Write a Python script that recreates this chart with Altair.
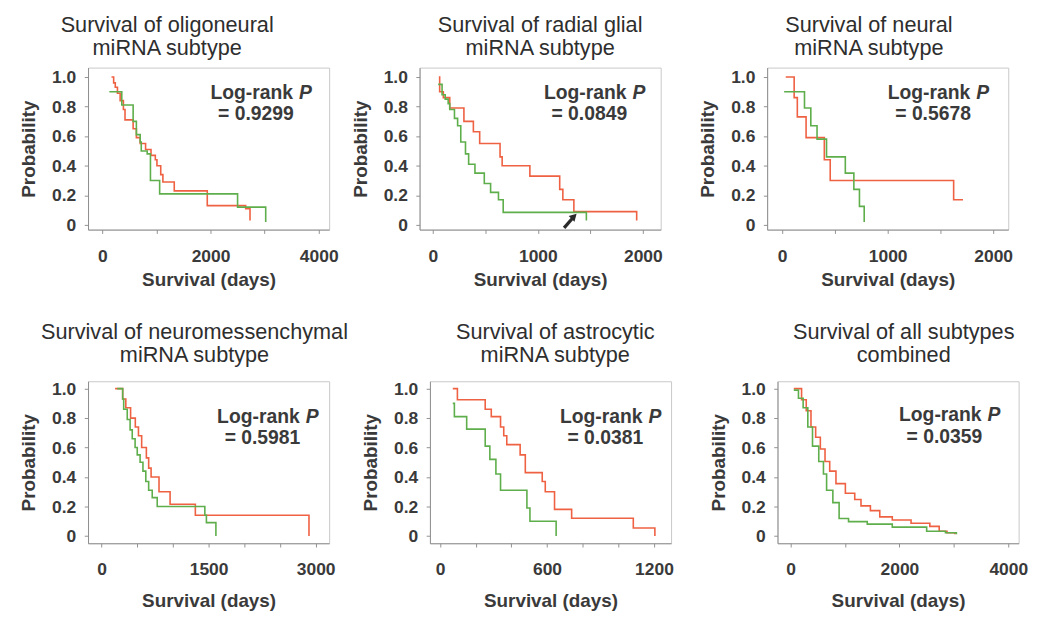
import altair as alt
import pandas as pd

RED = "#ef6143"
GREEN = "#5fae4c"
FONT = "Liberation Sans"
TXT = "#3a3a3a"

# ---------------- data (days, survival probability) ----------------
# Panel A: oligoneural
a_red_day = [170, 210, 240, 280, 330, 390, 420, 570, 630, 700, 800, 900, 980, 1010, 1080, 1120, 1330, 1940, 2650, 2730]
a_red_p = [1.0, 0.96, 0.93, 0.89, 0.84, 0.78, 0.71, 0.65, 0.59, 0.55, 0.51, 0.47, 0.44, 0.40, 0.34, 0.29, 0.23, 0.13, 0.11, 0.03]
a_grn_day = [130, 360, 570, 630, 700, 720, 830, 890, 1060, 2500, 3020]
a_grn_p = [0.90, 0.81, 0.70, 0.61, 0.56, 0.50, 0.48, 0.30, 0.21, 0.12, 0.02]

# Panel B: radial glial
b_red_day = [57, 65, 100, 161, 296, 386, 446, 640, 660, 924, 1208, 1238, 1343, 1941]
b_red_p = [1.0, 0.90, 0.86, 0.79, 0.70, 0.63, 0.55, 0.46, 0.40, 0.33, 0.24, 0.17, 0.09, 0.03]
b_grn_day = [51, 88, 118, 146, 161, 206, 236, 266, 311, 341, 401, 490, 550, 625, 670, 1462]
b_grn_p = [0.95, 0.88, 0.85, 0.82, 0.78, 0.72, 0.67, 0.56, 0.48, 0.41, 0.35, 0.28, 0.22, 0.17, 0.085, 0.03]
b_arrow_day = [1250, 1330]
b_arrow_p = [-0.02, 0.045]
b_head_day = [1345]
b_head_p = [0.058]

# Panel C: neural
c_red_day = [33, 113, 143, 226, 399, 455, 1625, 1714]
c_red_p = [1.0, 0.86, 0.73, 0.59, 0.44, 0.30, 0.17, 0.17]
c_grn_day = [18, 211, 271, 330, 420, 598, 679, 732, 777]
c_grn_p = [0.90, 0.79, 0.67, 0.58, 0.46, 0.35, 0.24, 0.125, 0.02]

# Panel D: neuromessenchymal
d_red_day = [190, 296, 340, 407, 473, 517, 562, 628, 660, 694, 805, 960, 1314, 2906]
d_red_p = [1.0, 0.93, 0.87, 0.80, 0.74, 0.68, 0.60, 0.53, 0.46, 0.40, 0.30, 0.215, 0.14, 0.0]
d_grn_day = [220, 296, 310, 360, 400, 430, 470, 500, 540, 580, 620, 660, 710, 780, 1447, 1469, 1602]
d_grn_p = [1.0, 0.93, 0.86, 0.79, 0.72, 0.66, 0.60, 0.55, 0.50, 0.44, 0.37, 0.31, 0.26, 0.20, 0.14, 0.09, 0.0]

# Panel E: astrocytic
e_red_day = [71, 97, 253, 287, 339, 357, 374, 449, 478, 573, 590, 642, 738, 1084, 1205]
e_red_p = [1.0, 0.925, 0.86, 0.81, 0.74, 0.68, 0.62, 0.55, 0.43, 0.37, 0.30, 0.18, 0.12, 0.054, 0.0]
e_grn_day = [71, 80, 149, 253, 279, 313, 339, 487, 504, 651]
e_grn_p = [0.90, 0.81, 0.725, 0.61, 0.52, 0.42, 0.31, 0.19, 0.10, 0.0]

# Panel F: all subtypes combined
f_red_day = [58, 201, 287, 374, 460, 546, 632, 718, 833, 1006, 1178, 1293, 1466, 1638, 1868, 2213, 2558, 2730, 2874, 3018]
f_red_p = [1.0, 0.925, 0.85, 0.74, 0.67, 0.59, 0.505, 0.44, 0.355, 0.29, 0.247, 0.204, 0.172, 0.129, 0.108, 0.086, 0.065, 0.032, 0.022, 0.011]
f_grn_day = [58, 144, 230, 316, 402, 517, 603, 661, 776, 891, 1064, 1408, 1868, 2500, 2845, 3046]
f_grn_p = [0.99, 0.935, 0.87, 0.74, 0.61, 0.505, 0.42, 0.31, 0.226, 0.118, 0.097, 0.08, 0.06, 0.032, 0.022, 0.011]

titles = [
    ["Survival of oligoneural", "miRNA subtype"],
    ["Survival of radial glial", "miRNA subtype"],
    ["Survival of neural", "miRNA subtype"],
    ["Survival of neuromessenchymal", "miRNA subtype"],
    ["Survival of astrocytic", "miRNA subtype"],
    ["Survival of all subtypes", "combined"],
]
pvalues = ["= 0.9299", "= 0.0849", "= 0.5678", "= 0.5981", "= 0.0381", "= 0.0359"]
x_domains = [[-263, 4193], [-126, 2170], [-143, 2143], [-189, 3189], [-57, 1296], [-241, 4190]]
x_ticks = [
    [0, 1000, 2000, 3000, 4000],
    [0, 500, 1000, 1500, 2000],
    [0, 500, 1000, 1500, 2000],
    [0, 500, 1000, 1500, 2000, 2500, 3000],
    [0, 200, 400, 600, 800, 1000, 1200],
    [0, 1000, 2000, 3000, 4000],
]
x_label_step = [2000, 1000, 1000, 1500, 600, 2000]
y_ticks = [0, 0.2, 0.4, 0.6, 0.8, 1.0]

W, H = 256, 172
ANN = 20.5


def text_layer(txt, x, y, size, weight="bold", style="normal", align="left", color=TXT):
    return alt.Chart(pd.DataFrame({"t": [txt]})).mark_text(
        font=FONT, fontSize=size, fontWeight=weight, fontStyle=style, color=color,
        align=align, baseline="middle"
    ).encode(x=alt.value(x), y=alt.value(y), text="t:N")


def panel(i, red_d, red_p, grn_d, grn_p, ydom, title_dx, title_y, ann_dx, ann_y,
          xlab_pad, xtitle_pad, arrow=None):
    df = pd.DataFrame({
        "day": red_d + grn_d,
        "p": red_p + grn_p,
        "g": ["a_red"] * len(red_d) + ["b_green"] * len(grn_d),
    })
    step = x_label_step[i]
    xscale = alt.Scale(domain=x_domains[i], nice=False, zero=False)
    yscale = alt.Scale(domain=ydom, nice=False, zero=False)
    xaxis = alt.Axis(values=x_ticks[i], title="Survival (days)",
                     labelPadding=xlab_pad, titlePadding=xtitle_pad,
                     labelExpr=f"datum.value % {step} === 0 ? format(datum.value, 'd') : ''")
    yaxis = alt.Axis(values=y_ticks, title="Probability", labelOverlap=False,
                     labelExpr="datum.value === 0 ? '0' : format(datum.value, '.1f')")
    lines = alt.Chart(df).mark_line(interpolate="step-after", strokeWidth=1.7, clip=True).encode(
        x=alt.X("day:Q", scale=xscale, axis=xaxis),
        y=alt.Y("p:Q", scale=yscale, axis=yaxis),
        color=alt.Color("g:N", scale=alt.Scale(domain=["b_green", "a_red"], range=[GREEN, RED]), legend=None),
        order=alt.Order("day:Q"),
    )
    layers = [
        lines,
        text_layer(titles[i][0], W / 2 + title_dx, title_y, 23, weight="normal", align="center", color="#2e2e2e"),
        text_layer(titles[i][1], W / 2 + title_dx, title_y + 25, 23, weight="normal", align="center", color="#2e2e2e"),
        text_layer("Log-rank", ann_dx, ann_y, ANN),
        text_layer("P", ann_dx + 94, ann_y, ANN, style="italic"),
        text_layer(pvalues[i], ann_dx + 8, ann_y + 23, ANN),
    ]
    if arrow is not None:
        ad, ap, hd, hp = arrow
        shaft = alt.Chart(pd.DataFrame({"day": ad, "p": ap})).mark_line(
            color="#2a2a2a", strokeWidth=3.5
        ).encode(x=alt.X("day:Q", scale=xscale, axis=xaxis), y=alt.Y("p:Q", scale=yscale, axis=yaxis))
        head = alt.Chart(pd.DataFrame({"day": hd, "p": hp})).mark_point(
            shape="triangle-up", filled=True, color="#2a2a2a", size=75, angle=45, opacity=1
        ).encode(x=alt.X("day:Q", scale=xscale, axis=xaxis), y=alt.Y("p:Q", scale=yscale, axis=yaxis))
        layers += [shaft, head]
    return alt.layer(*layers).properties(width=W, height=H)


def spacer():
    return alt.Chart(pd.DataFrame({"a": [0]})).mark_point(opacity=0).encode(
        x=alt.value(0), y=alt.value(0)
    ).properties(width=7, height=H, view=alt.ViewBackground(stroke="transparent"))


Y1 = [-0.032, 1.063]
Y2 = [-0.05, 1.05]

pa = panel(0, a_red_day, a_red_p, a_grn_day, a_grn_p, Y1, -44, -45, 130, 27, 15, 6)
pb = panel(1, b_red_day, b_red_p, b_grn_day, b_grn_p, Y1, 0, -45, 132, 27, 15, 6,
           arrow=(b_arrow_day, b_arrow_p, b_head_day, b_head_p))
pc = panel(2, c_red_day, c_red_p, c_grn_day, c_grn_p, Y1, -20, -45, 128, 27, 15, 6)
pd_ = panel(3, d_red_day, d_red_p, d_grn_day, d_grn_p, Y2, -15, -52, 137, 38, 14, 15)
pe = panel(4, e_red_day, e_red_p, e_grn_day, e_grn_p, Y2, 5, -52, 138, 38, 14, 15)
pf = panel(5, f_red_day, f_red_p, f_grn_day, f_grn_p, Y2, 6, -52, 129, 36, 14, 15)

row1 = alt.hconcat(pa, pb, spacer(), pc, spacing=12)
row2 = alt.hconcat(pd_, pe, spacer(), pf, spacing=12)

chart = alt.vconcat(row1, row2, spacing=33).properties(
    padding={"top": -13, "left": 11, "right": 0, "bottom": 5}
).configure_view(
    stroke="#c6c6c6", strokeWidth=1
).configure_axis(
    grid=False,
    domainColor="#8c8c8c",
    tickColor="#8c8c8c",
    tickSize=4,
    labelFont=FONT,
    labelFontSize=18.5,
    labelFontWeight="bold",
    labelColor=TXT,
    titleFont=FONT,
    titleFontSize=20,
    titleFontWeight="bold",
    titleColor=TXT,
).configure_axisY(
    labelPadding=9, titlePadding=14
)

chart.save("out.html", embed_options={"renderer": "svg", "actions": False})
